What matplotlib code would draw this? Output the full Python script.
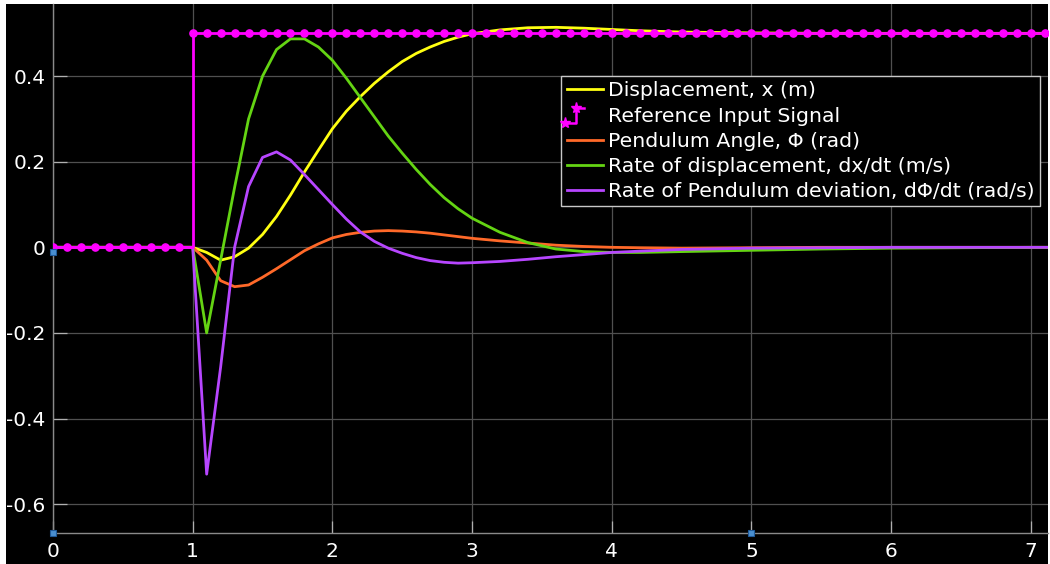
import numpy as np
import matplotlib
matplotlib.use("Agg")
import matplotlib.pyplot as plt
from matplotlib.patches import Rectangle
from matplotlib.lines import Line2D
from matplotlib.legend_handler import HandlerBase

# scope traces (time in s)
t = [0.0, 1.0, 1.1, 1.2, 1.3, 1.4, 1.5, 1.6, 1.7, 1.8, 1.9, 2.0, 2.1, 2.2, 2.3, 2.4,
     2.5, 2.6, 2.7, 2.8, 2.9, 3.0, 3.2, 3.4, 3.6, 3.8, 4.0, 4.2, 4.5, 5.0, 5.5, 6.0,
     7.0, 8.0]
x_pos = [0.0, 0.0, -0.012, -0.03, -0.022, -0.002, 0.03, 0.072, 0.122, 0.176, 0.227,
         0.277, 0.318, 0.352, 0.383, 0.41, 0.434, 0.453, 0.468, 0.481, 0.491, 0.499,
         0.508, 0.513, 0.514, 0.512, 0.509, 0.506, 0.503, 0.501, 0.5, 0.5, 0.5, 0.5]
phi = [0.0, 0.0, -0.03, -0.078, -0.092, -0.088, -0.07, -0.05, -0.029, -0.008, 0.008,
       0.022, 0.03, 0.035, 0.038, 0.039, 0.038, 0.036, 0.033, 0.029, 0.025, 0.021,
       0.015, 0.01, 0.005, 0.002, 0.0, -0.001, -0.002, -0.001, 0.0, 0.0, 0.0, 0.0]
x_dot = [0.0, 0.0, -0.2, -0.03, 0.14, 0.30, 0.40, 0.462, 0.487, 0.487, 0.468, 0.437,
         0.395, 0.35, 0.305, 0.26, 0.22, 0.182, 0.147, 0.116, 0.09, 0.068, 0.035,
         0.011, -0.004, -0.01, -0.012, -0.012, -0.01, -0.007, -0.004, -0.002, 0.0, 0.0]
phi_dot = [0.0, 0.0, -0.53, -0.28, 0.0, 0.142, 0.21, 0.223, 0.204, 0.17, 0.135, 0.10,
           0.066, 0.036, 0.014, -0.002, -0.014, -0.024, -0.031, -0.035, -0.037, -0.036,
           -0.033, -0.028, -0.022, -0.017, -0.012, -0.009, -0.005, -0.002, -0.001, 0.0,
           0.0, 0.0]

# reference step, sampled every 0.1 s
ref_t = np.round(np.arange(0, 7.25, 0.1), 1)
ref_v = [0.0] * 10 + [0.5] * (len(ref_t) - 10)

# data cursor markers
cursor_t = [0, 0, 5]
cursor_v = [-0.012, -0.6675, -0.6675]

labels = ["Displacement, x (m)", "Reference Input Signal", "Pendulum Angle, \u03a6 (rad)",
          "Rate of displacement, dx/dt (m/s)",
          "Rate of Pendulum deviation, d\u03a6/dt (rad/s)"]
colors = ["#FFFF11", "#FF00FF", "#FF6929", "#64D413", "#B746FF"]


class StairHandler(HandlerBase):
    # little step icon with markers, like the scope legend
    def create_artists(self, legend, orig_handle, xdescent, ydescent,
                       width, height, fontsize, trans):
        c = height / 2 - ydescent
        xs = [-xdescent - 1, 0.27 * width, 0.27 * width, 0.48 * width]
        ys = [c - 6.5, c - 6.5, c + 4.3, c + 4.3]
        ln = Line2D(xs, ys, color=orig_handle.get_color(), lw=1.8, transform=trans)
        mk = Line2D([xs[0], xs[2]], [ys[0], ys[2]], ls="", marker="*", ms=8,
                    color=orig_handle.get_color(), transform=trans)
        return [ln, mk]


fig = plt.figure(figsize=(10.5, 5.64), dpi=100, facecolor="white")
fig.patches.append(Rectangle((6 / 1050, 0), 1042 / 1050, 560 / 564,
                             transform=fig.transFigure, facecolor="black",
                             edgecolor="none", zorder=-10))
ax = fig.add_axes([53 / 1050, 31 / 564, 995 / 1050, 529 / 564])
ax.set_facecolor("black")

lw = 2.0
h1, = ax.plot(t, x_pos, color=colors[0], lw=lw)
h2, = ax.plot(ref_t, ref_v, color=colors[1], lw=lw, drawstyle="steps-post",
              marker="o", ms=5.2, mfc=colors[1], mec=colors[1], zorder=5)
h3, = ax.plot(t, phi, color=colors[2], lw=lw)
h4, = ax.plot(t, x_dot, color=colors[3], lw=lw)
h5, = ax.plot(t, phi_dot, color=colors[4], lw=lw)

ax.plot(cursor_t, cursor_v, ls="", marker="s", ms=4.5, mfc="#4a8fd0",
        mec="#1f5a9a", mew=0.8, clip_on=False, zorder=6)

ax.set_xlim(0, 7.123)
ax.set_ylim(-0.6675, 0.5685)
ax.set_xticks(range(0, 8))
ax.set_yticks([-0.6, -0.4, -0.2, 0, 0.2, 0.4])
ax.set_yticklabels(["-0.6", "-0.4", "-0.2", "0", "0.2", "0.4"])
ax.grid(True, color="#505050", lw=0.9)
ax.set_axisbelow(True)
ax.tick_params(axis="both", direction="in", colors="#b0b0b0", labelcolor="white",
               labelsize=14.5, width=0.9)
ax.tick_params(axis="x", length=8.6, pad=6.5)
ax.tick_params(axis="y", length=10, pad=5.5)
for side in ["top", "right"]:
    ax.spines[side].set_visible(False)
for side in ["left", "bottom"]:
    ax.spines[side].set_color("#8a8a8a")
    ax.spines[side].set_linewidth(1.0)

leg = ax.legend([h1, h2, h3, h4, h5], labels, loc="upper left",
                bbox_to_anchor=(0.5106, 0.864), fontsize=14.7, frameon=True,
                fancybox=False, facecolor="black", edgecolor="#c8c8c8",
                labelcolor="white", handlelength=1.8, handletextpad=0.25,
                labelspacing=0.3, borderpad=0.27, borderaxespad=0,
                handler_map={h2: StairHandler()})
leg.get_frame().set_linewidth(1.0)
leg.get_frame().set_alpha(1.0)

fig.savefig("out.png", dpi=100, facecolor=fig.get_facecolor())
